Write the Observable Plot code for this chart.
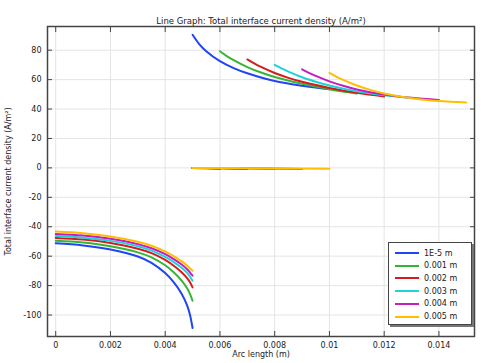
<!DOCTYPE html>
<html>
<head>
<meta charset="utf-8">
<script src="https://cdn.jsdelivr.net/npm/d3@7"></script>
<script src="https://cdn.jsdelivr.net/npm/@observablehq/plot@0.6"></script>
<style>
  body { margin: 0; background: #fff; }
  #wrap { position: relative; width: 484px; height: 363px; font-family: "DejaVu Sans", sans-serif; }
  #legend { position: absolute; left: 388px; top: 242px; width: 82px; height: 81px;
    border: 1.5px solid #444; background: #fff; box-shadow: 2px 2px 0 #777; font-size: 8px; color: #222; }
  .row { position: absolute; left: 6px; height: 12px; display: flex; align-items: center; }
  .sw { width: 24px; height: 2px; margin-right: 5px; }
</style>
</head>
<body>
<div id="wrap"></div>
<script>
const title = "Line Graph: Total interface current density (A/m²)";
const xLabel = "Arc length (m)";
const yLabel = "Total interface current density (A/m²)";
const series = ["1E-5 m", "0.001 m", "0.002 m", "0.003 m", "0.004 m", "0.005 m"];
const colors = ["#1f45f5", "#35b535", "#d41c1c", "#1ed2d8", "#c21fc2", "#ffbe00"];
const xTicks = [0, 0.002, 0.004, 0.006, 0.008, 0.01, 0.012, 0.014];
const yTicks = [-100, -80, -60, -40, -20, 0, 20, 40, 60, 80];

// Lower boundary (negative branch), arc length 0 .. 0.005
const negX = [0, 0.001, 0.002, 0.003, 0.0035, 0.004, 0.0043, 0.0046, 0.0048, 0.0049, 0.005];
const negY1e5 = [-51.3, -52.7, -55.4, -60.2, -64.5, -71.5, -77.5, -85.5, -93.5, -99.5, -108.8];
const negY001 = [-49.5, -50.7, -53.2, -57.4, -60.8, -66.2, -70.8, -76.6, -81.8, -85.4, -90.3];
const negY002 = [-47.6, -48.7, -51.0, -54.9, -57.9, -62.5, -66.3, -70.9, -74.9, -77.5, -81.2];
const negY003 = [-46.3, -47.4, -49.6, -53.3, -56.2, -60.5, -63.9, -67.9, -71.4, -73.8, -76.7];
const negY004 = [-44.9, -46.0, -48.2, -51.8, -54.6, -58.6, -61.9, -65.7, -68.9, -71.0, -73.3];
const negY005 = [-43.3, -44.4, -46.6, -50.2, -52.9, -56.8, -59.9, -63.4, -66.4, -68.2, -69.9];

// Middle boundary (near zero)
const midX1e5 = [0.005, 0.00501];
const midX001 = [0.005, 0.0055, 0.006];
const midX002 = [0.005, 0.006, 0.007];
const midX003 = [0.005, 0.0065, 0.008];
const midX004 = [0.005, 0.007, 0.009];
const midX005 = [0.005, 0.0075, 0.010];
const midY1e5 = [0, 0];
const midY001 = [0, -0.2, -0.8];
const midY002 = [0, -0.2, -0.8];
const midY003 = [0, -0.2, -0.8];
const midY004 = [0, -0.2, -0.8];
const midY005 = [0, -0.2, -0.6];

// Upper boundary (positive branch)
const posX1e5 = [0.005, 0.00525, 0.0055, 0.006, 0.0065, 0.007, 0.008, 0.009, 0.010];
const posX001 = [0.006, 0.00625, 0.0065, 0.007, 0.0075, 0.008, 0.009, 0.010, 0.011];
const posX002 = [0.007, 0.00725, 0.0075, 0.008, 0.0085, 0.009, 0.010, 0.011, 0.012];
const posX003 = [0.008, 0.00825, 0.0085, 0.009, 0.0095, 0.010, 0.011, 0.012, 0.013];
const posX004 = [0.009, 0.00925, 0.0095, 0.010, 0.0105, 0.011, 0.012, 0.013, 0.014];
const posX005 = [0.010, 0.01025, 0.0105, 0.011, 0.0115, 0.012, 0.013, 0.014, 0.015];
const posY1e5 = [90.5, 84.0, 79.3, 72.5, 67.8, 64.3, 59.0, 55.8, 53.5];
const posY001 = [79.3, 76.0, 73.2, 68.5, 64.8, 61.8, 57.2, 53.5, 50.5];
const posY002 = [73.7, 71.0, 68.6, 64.5, 61.2, 58.5, 54.3, 51.0, 48.5];
const posY003 = [70.0, 67.6, 65.4, 61.6, 58.6, 56.0, 52.0, 49.3, 47.5];
const posY004 = [67.0, 64.6, 62.5, 58.8, 55.8, 53.3, 49.8, 47.6, 46.2];
const posY005 = [64.5, 62.0, 59.8, 56.0, 53.0, 50.6, 47.3, 45.4, 44.4];

const negYs = [negY1e5, negY001, negY002, negY003, negY004, negY005];
const midXs = [midX1e5, midX001, midX002, midX003, midX004, midX005];
const midYs = [midY1e5, midY001, midY002, midY003, midY004, midY005];
const posXs = [posX1e5, posX001, posX002, posX003, posX004, posX005];
const posYs = [posY1e5, posY001, posY002, posY003, posY004, posY005];

const rows = [];
series.forEach((s, i) => {
  negX.forEach((x, j) => rows.push({series: s, seg: s + "-neg", x, y: negYs[i][j]}));
  midXs[i].forEach((x, j) => rows.push({series: s, seg: s + "-mid", x, y: midYs[i][j]}));
  posXs[i].forEach((x, j) => rows.push({series: s, seg: s + "-pos", x, y: posYs[i][j]}));
});

const fmt = d => String(d);

const plot = Plot.plot({
  width: 484,
  height: 363,
  marginLeft: 47,
  marginRight: 10,
  marginTop: 26,
  marginBottom: 27,
  style: {fontFamily: "DejaVu Sans, sans-serif", fontSize: "8px", background: "#fff", color: "#222"},
  x: {domain: [-0.0003, 0.0153]},
  y: {domain: [-114.6, 96.1]},
  color: {domain: series, range: colors},
  marks: [
    Plot.gridX(xTicks, {stroke: "#e4e4e4", strokeOpacity: 1}),
    Plot.gridY(yTicks, {stroke: "#e4e4e4", strokeOpacity: 1}),
    Plot.line(rows, {x: "x", y: "y", z: "seg", stroke: "series", strokeWidth: 2, curve: "catmull-rom"}),
    Plot.axisX(xTicks, {anchor: "bottom", tickSize: -5, tickPadding: 11, tickFormat: fmt, label: null, stroke: "#444"}),
    Plot.axisX(xTicks, {anchor: "top", tickSize: -5, text: null, label: null, stroke: "#444"}),
    Plot.axisY(yTicks, {anchor: "left", tickSize: -5, tickPadding: 11, tickFormat: fmt, label: null, stroke: "#444"}),
    Plot.axisY(yTicks, {anchor: "right", tickSize: -5, text: null, label: null, stroke: "#444"}),
    Plot.frame({stroke: "#444", strokeWidth: 1.5}),
    Plot.text([title], {frameAnchor: "top", dy: -9, fontSize: 8.5, fill: "#222"}),
    Plot.text([xLabel], {frameAnchor: "bottom", dy: 20, fill: "#222"}),
    Plot.text([yLabel], {frameAnchor: "left", textAnchor: "middle", dx: -39, rotate: -90, fill: "#222"})
  ]
});

const wrap = document.getElementById("wrap");
wrap.appendChild(plot);
const legend = document.createElement("div");
legend.id = "legend";
series.forEach((s, i) => {
  const r = document.createElement("div");
  r.className = "row";
  r.style.top = (4 + i * 12.7) + "px";
  const sw = document.createElement("div");
  sw.className = "sw";
  sw.style.background = colors[i];
  const t = document.createElement("span");
  t.textContent = s;
  r.appendChild(sw);
  r.appendChild(t);
  legend.appendChild(r);
});
wrap.appendChild(legend);
</script>
</body>
</html>
